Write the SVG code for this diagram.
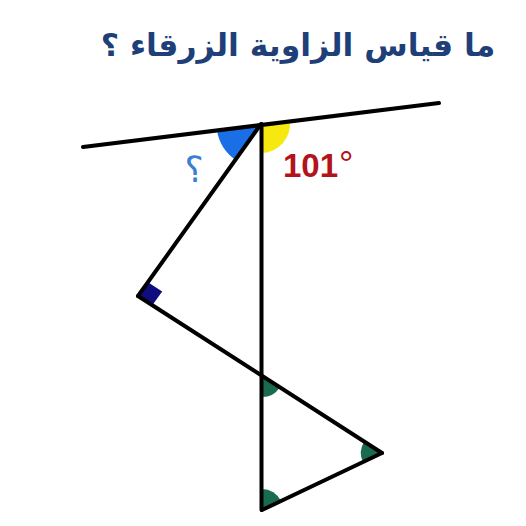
<svg xmlns="http://www.w3.org/2000/svg" width="526" height="526" viewBox="0 0 526 526">
<style>
.ln{stroke:#000;stroke-width:4;stroke-linecap:round;fill:none}
.gr{fill:#1a6b4e}
</style>
<rect width="526" height="526" fill="#fff"/>
<text x="298" y="56" font-family="DejaVu Sans, sans-serif" font-weight="bold" font-size="31.5" fill="#1e3f78" text-anchor="middle" direction="rtl">ما قياس الزاوية الزرقاء ؟</text>
<g id="angles">
<path d="M261,124 L217,130 A44,44 0 0 0 235.4,159.8 Z" fill="#1a6fe6"/>
<path d="M261,124 L289.8,120.4 A29,29 0 0 1 261,153 Z" fill="#f5e90f"/>
<path d="M138,296 L147.9,282.2 L162.2,291.5 L152.3,305.3 Z" fill="#0d0d80"/>
<path d="M262,376 L262,397 A21,21 0 0 0 279.7,387.4 Z" class="gr"/>
<path d="M382,453 L364.3,441.6 A21,21 0 0 0 363,462 Z" class="gr"/>
<path d="M262,510 L262,489 A21,21 0 0 1 281,501 Z" class="gr"/>
</g>
<g id="connectors">
<line class="ln" x1="83" y1="147" x2="439" y2="103"/>
<line class="ln" x1="261.5" y1="124" x2="261.5" y2="510"/>
<line class="ln" x1="261" y1="124" x2="138" y2="296"/>
<line class="ln" x1="138" y1="296" x2="382" y2="453"/>
<line class="ln" x1="382" y1="453" x2="262" y2="510"/>
</g>
<g id="labels">
<text x="194" y="182" font-family="DejaVu Sans, sans-serif" font-size="36" fill="#3a7fd0" text-anchor="middle">؟</text>
<text x="283" y="177" font-family="Liberation Sans, Arial, sans-serif" font-weight="bold" font-size="33" fill="#b3141c">101</text>
<text x="339" y="177" font-family="Liberation Sans, Arial, sans-serif" font-size="36" fill="#b3141c">°</text>
</g>
</svg>
